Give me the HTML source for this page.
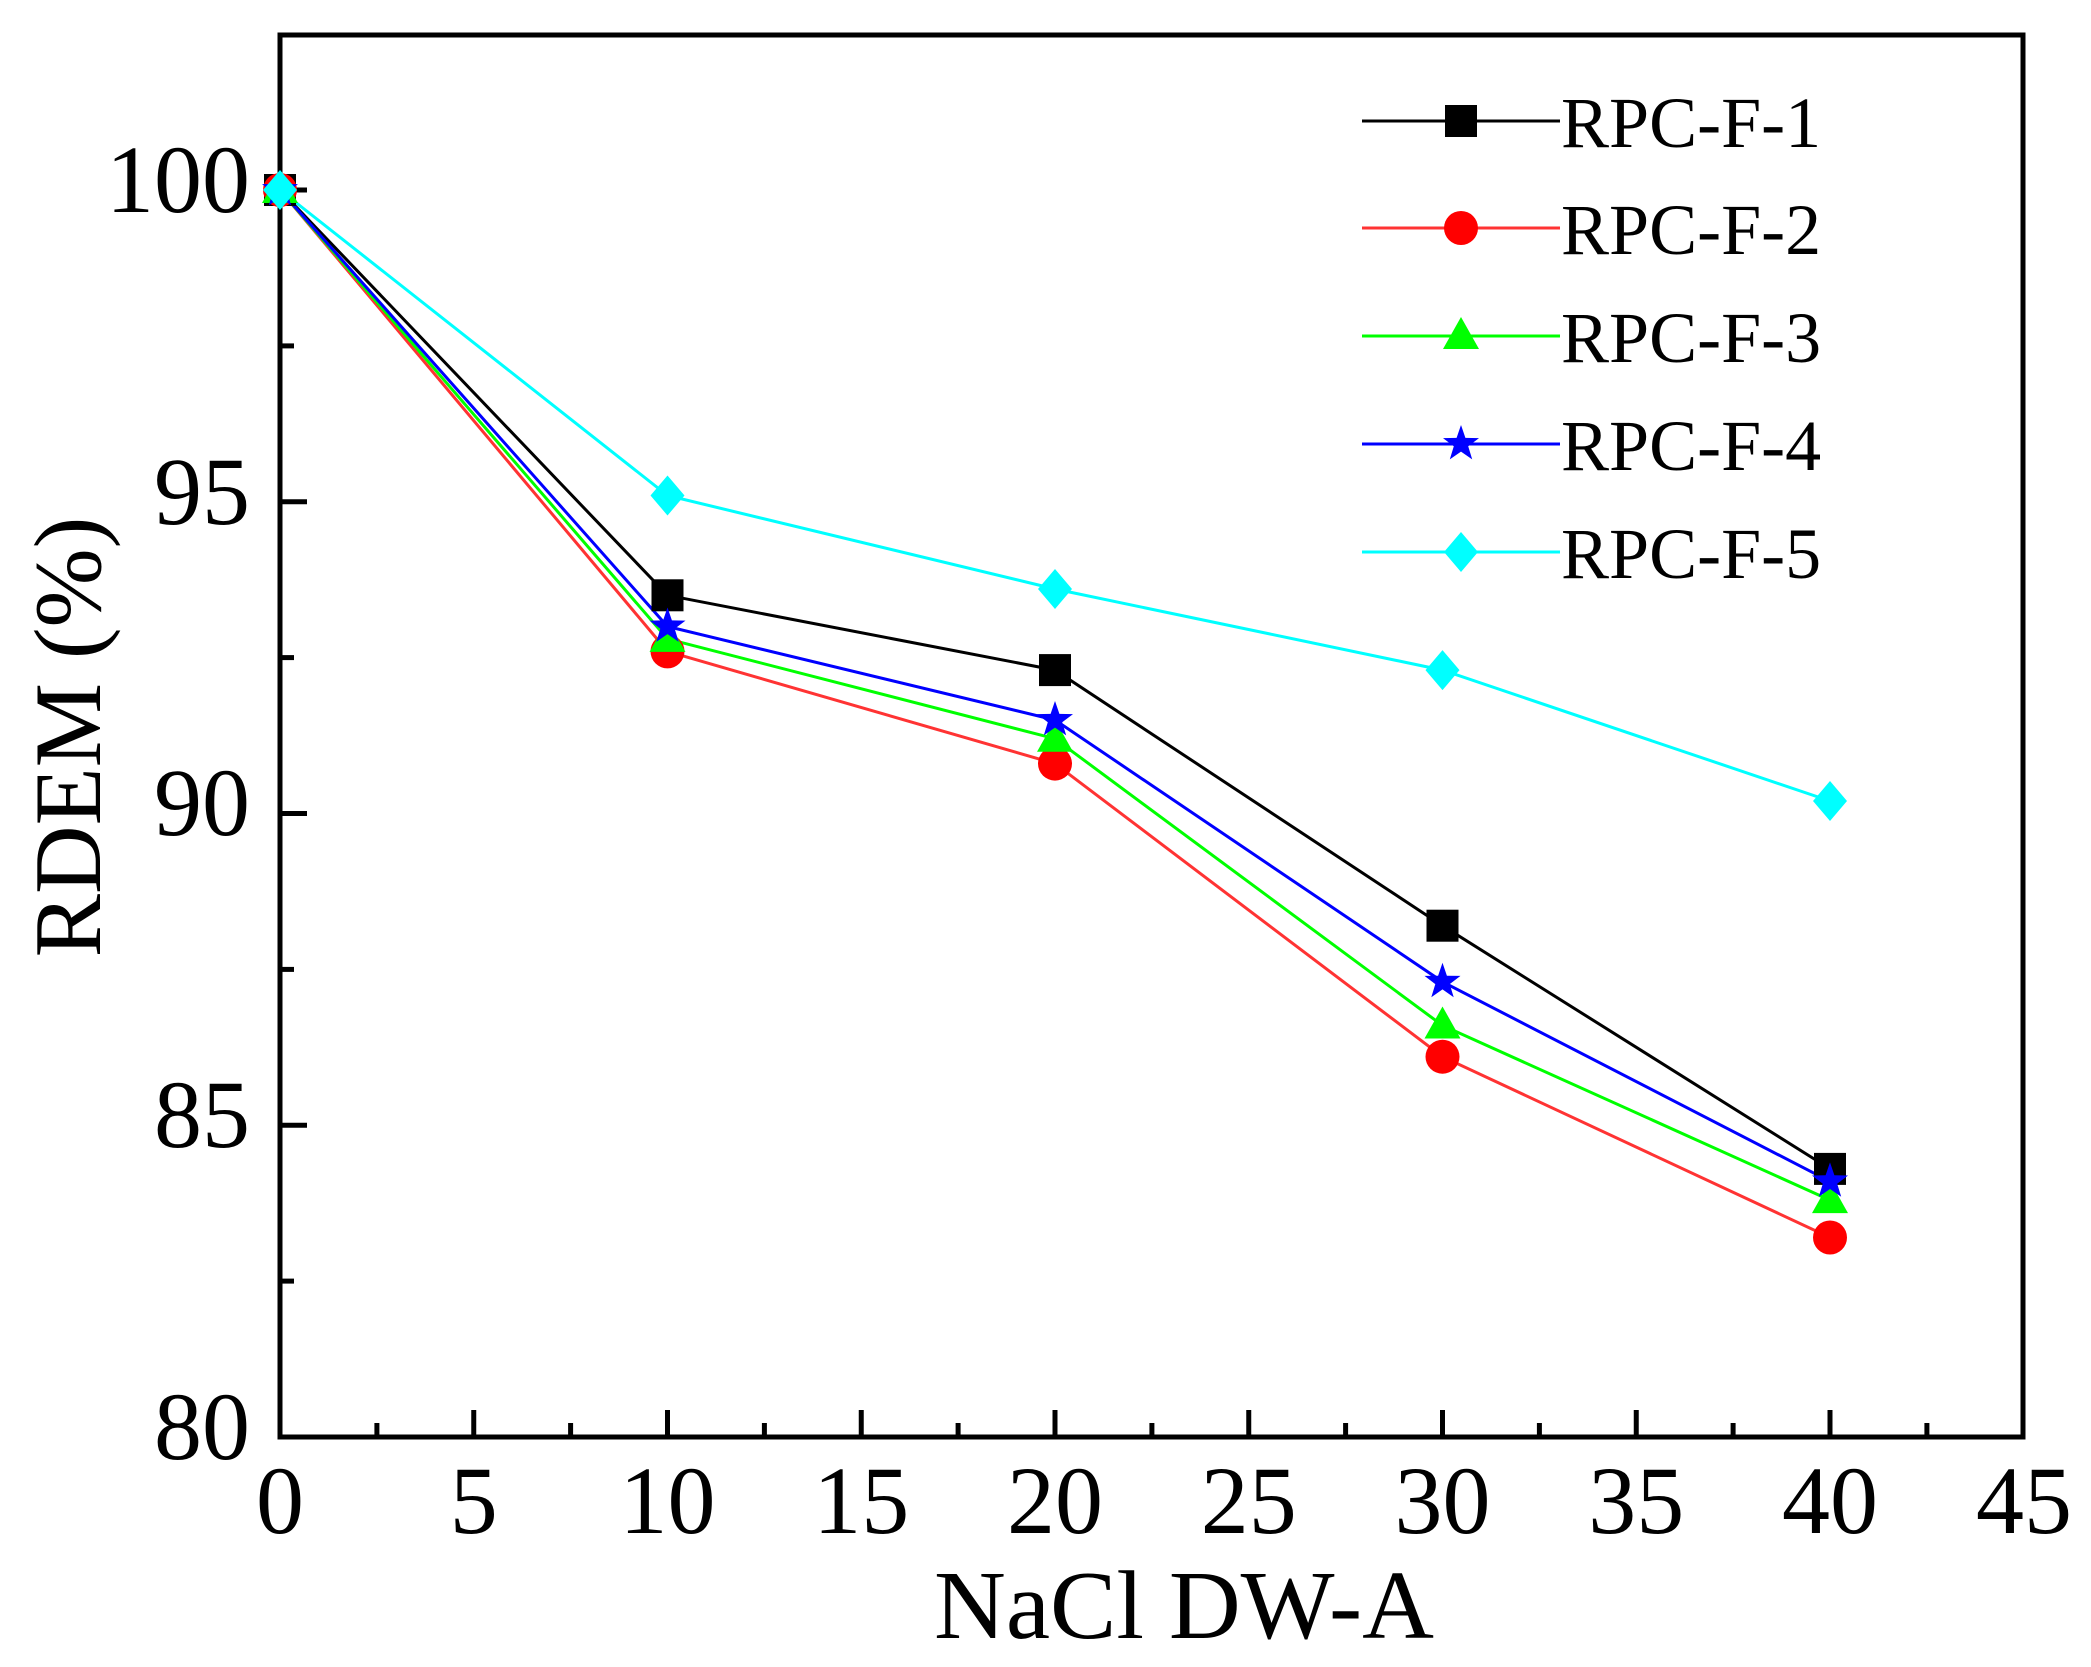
<!DOCTYPE html>
<html><head><meta charset="utf-8"><style>html,body{margin:0;padding:0;background:#fff}svg{display:block}</style></head>
<body>
<svg width="2091" height="1667" viewBox="0 0 2091 1667" xmlns="http://www.w3.org/2000/svg" font-family="'Liberation Serif', serif">
<rect width="2091" height="1667" fill="#fff"/>
<g stroke="#000" stroke-width="5">
<line x1="473.75" y1="1437" x2="473.75" y2="1410"/><line x1="667.5" y1="1437" x2="667.5" y2="1410"/><line x1="861.25" y1="1437" x2="861.25" y2="1410"/><line x1="1055" y1="1437" x2="1055" y2="1410"/><line x1="1248.75" y1="1437" x2="1248.75" y2="1410"/><line x1="1442.5" y1="1437" x2="1442.5" y2="1410"/><line x1="1636.25" y1="1437" x2="1636.25" y2="1410"/><line x1="1830" y1="1437" x2="1830" y2="1410"/>
<line x1="376.9" y1="1437" x2="376.9" y2="1423"/><line x1="570.6" y1="1437" x2="570.6" y2="1423"/><line x1="764.4" y1="1437" x2="764.4" y2="1423"/><line x1="958.1" y1="1437" x2="958.1" y2="1423"/><line x1="1151.9" y1="1437" x2="1151.9" y2="1423"/><line x1="1345.6" y1="1437" x2="1345.6" y2="1423"/><line x1="1539.4" y1="1437" x2="1539.4" y2="1423"/><line x1="1733.1" y1="1437" x2="1733.1" y2="1423"/><line x1="1926.9" y1="1437" x2="1926.9" y2="1423"/>
<line x1="280" y1="1125.25" x2="307" y2="1125.25"/><line x1="280" y1="813.5" x2="307" y2="813.5"/><line x1="280" y1="501.75" x2="307" y2="501.75"/><line x1="280" y1="190" x2="307" y2="190"/>
<line x1="280" y1="1281.1" x2="294" y2="1281.1"/><line x1="280" y1="969.4" x2="294" y2="969.4"/><line x1="280" y1="657.6" x2="294" y2="657.6"/><line x1="280" y1="345.9" x2="294" y2="345.9"/>
</g>
<rect x="280" y="35" width="1743" height="1402" fill="none" stroke="#000" stroke-width="5"/>
<g font-size="96" fill="#000" text-anchor="middle">
<text x="280" y="1533">0</text><text x="473.75" y="1533">5</text><text x="667.5" y="1533">10</text><text x="861.25" y="1533">15</text><text x="1055" y="1533">20</text><text x="1248.75" y="1533">25</text><text x="1442.5" y="1533">30</text><text x="1636.25" y="1533">35</text><text x="1830" y="1533">40</text><text x="2024" y="1533">45</text>
</g>
<g font-size="96" fill="#000" text-anchor="end">
<text x="250" y="1459">80</text><text x="250" y="1147">85</text><text x="250" y="835">90</text><text x="250" y="524">95</text><text x="250" y="212">100</text>
</g>
<text x="934" y="1638" font-size="98" textLength="500" lengthAdjust="spacingAndGlyphs">NaCl DW-A</text>
<text transform="translate(100,737) rotate(-90)" font-size="95" text-anchor="middle">RDEM (%)</text>
<g fill="none" stroke-width="3">
<polyline stroke="#000" points="280,190 667.5,595.3 1055,670.1 1442.5,925.7 1830,1168.9"/>
<polyline stroke="#ff3333" points="280,190 667.5,651.4 1055,763.6 1442.5,1056.7 1830,1237.5"/>
<polyline stroke="#00ff00" points="280,190 667.5,638.9 1055,738.7 1442.5,1025.5 1830,1200.1"/>
<polyline stroke="#0000ff" points="280,190 667.5,626.5 1055,720 1442.5,981.8 1830,1181.4"/>
<polyline stroke="#00ffff" points="280,190 667.5,495.5 1055,589 1442.5,670.1 1830,801"/>
</g>
<defs>
<rect id="sq" x="-16" y="-16" width="32" height="32" fill="#000"/>
<circle id="ci" r="17" fill="#ff0000"/>
<polygon id="tr" points="0,-19 18,13 -18,13" fill="#00ff00"/>
<polygon id="st" points="0,-19 4.4,-6.1 18,-5.9 7.2,2.3 11.2,15.4 0,7.6 -11.2,15.4 -7.2,2.3 -18,-5.9 -4.4,-6.1" fill="#0000ff"/>
<polygon id="di" points="0,-20 17,0 0,20 -17,0" fill="#00ffff"/>
</defs>
<use href="#sq" x="280" y="190"/><use href="#sq" x="667.5" y="595.3"/><use href="#sq" x="1055" y="670.1"/><use href="#sq" x="1442.5" y="925.7"/><use href="#sq" x="1830" y="1168.9"/>
<use href="#ci" x="280" y="190"/><use href="#ci" x="667.5" y="651.4"/><use href="#ci" x="1055" y="763.6"/><use href="#ci" x="1442.5" y="1056.7"/><use href="#ci" x="1830" y="1237.5"/>
<use href="#tr" x="280" y="190"/><use href="#tr" x="667.5" y="638.9"/><use href="#tr" x="1055" y="738.7"/><use href="#tr" x="1442.5" y="1025.5"/><use href="#tr" x="1830" y="1200.1"/>
<use href="#st" x="280" y="190"/><use href="#st" x="667.5" y="626.5"/><use href="#st" x="1055" y="720"/><use href="#st" x="1442.5" y="981.8"/><use href="#st" x="1830" y="1181.4"/>
<use href="#di" x="280" y="190"/><use href="#di" x="667.5" y="495.5"/><use href="#di" x="1055" y="589"/><use href="#di" x="1442.5" y="670.1"/><use href="#di" x="1830" y="801"/>
<g stroke-width="3">
<line x1="1362" y1="121" x2="1560" y2="121" stroke="#000"/>
<line x1="1362" y1="228" x2="1560" y2="228" stroke="#ff3333"/>
<line x1="1362" y1="336" x2="1560" y2="336" stroke="#00ff00"/>
<line x1="1362" y1="444" x2="1560" y2="444" stroke="#0000ff"/>
<line x1="1362" y1="552" x2="1560" y2="552" stroke="#00ffff"/>
</g>
<use href="#sq" x="1461" y="121"/><use href="#ci" x="1461" y="228"/><use href="#tr" x="1461" y="336"/><use href="#st" x="1461" y="444"/><use href="#di" x="1461" y="552"/>
<g font-size="72" fill="#000">
<text x="1561" y="147">RPC-F-1</text><text x="1561" y="254">RPC-F-2</text><text x="1561" y="362">RPC-F-3</text><text x="1561" y="470">RPC-F-4</text><text x="1561" y="578">RPC-F-5</text>
</g>
</svg>
</body></html>
